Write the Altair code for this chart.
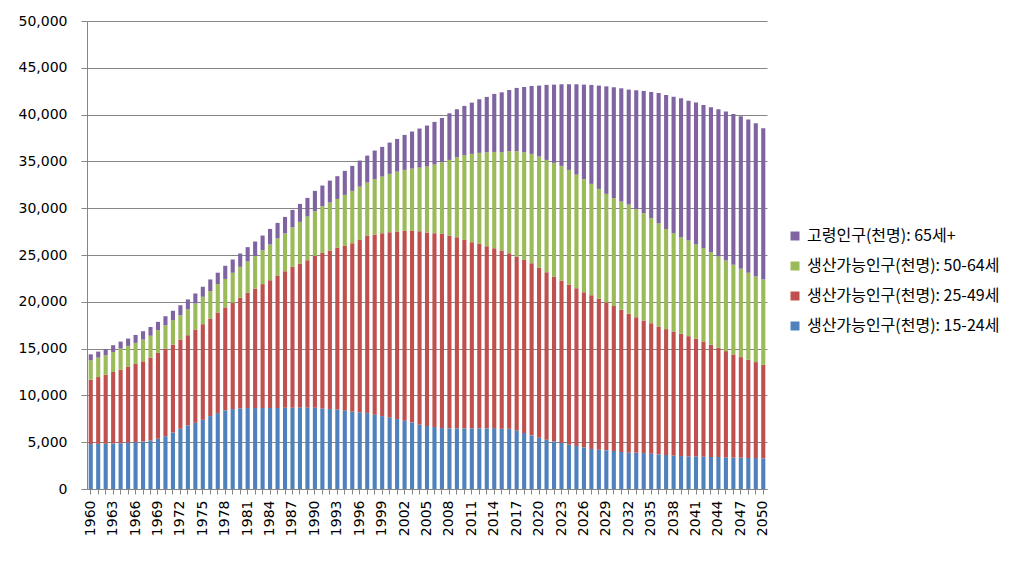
import altair as alt
import pandas as pd

years = list(range(1960, 2051))

age_15_24 = [4800, 4820, 4830, 4860, 4890, 4960, 5000, 5070, 5180, 5360,
             5640, 6040, 6430, 6790, 7070, 7390, 7790, 8110, 8400, 8540,
             8610, 8650, 8650, 8650, 8650, 8650, 8680, 8680, 8720, 8720,
             8680, 8610, 8540, 8500, 8400, 8290, 8200, 8110, 7940, 7790,
             7650, 7470, 7300, 7120, 6900, 6730, 6620, 6510, 6480, 6480,
             6480, 6480, 6480, 6480, 6500, 6440, 6440, 6260, 5980, 5730,
             5480, 5270, 5090, 4950, 4730, 4590, 4450, 4270, 4200, 4130,
             4060, 3950, 3910, 3860, 3840, 3770, 3700, 3630, 3560, 3520,
             3490, 3490, 3450, 3420, 3420, 3380, 3350, 3350, 3310, 3310,
             3270]

age_25_49 = [6880, 7140, 7380, 7640, 7860, 8080, 8360, 8570, 8860, 9180,
             9360, 9390, 9530, 9640, 9970, 10220, 10420, 10750, 11000, 11350,
             11820, 12310, 12740, 13240, 13660, 14160, 14590, 15060, 15370, 15730,
             16230, 16620, 16940, 17270, 17610, 17970, 18420, 18970, 19250, 19540,
             19790, 20040, 20280, 20460, 20640, 20670, 20710, 20750, 20600, 20420,
             20140, 19890, 19710, 19460, 19230, 19040, 18760, 18580, 18500, 18400,
             18150, 17900, 17610, 17330, 17120, 16870, 16580, 16440, 16120, 15800,
             15480, 15200, 14810, 14500, 14170, 13950, 13670, 13450, 13270, 13060,
             12840, 12560, 12320, 11990, 11670, 11350, 11030, 10740, 10500, 10250,
             10000]

age_50_64 = [2070, 2080, 2080, 2140, 2250, 2250, 2250, 2320, 2320, 2420,
             2500, 2610, 2610, 2750, 2780, 2930, 2930, 3030, 3040, 3210,
             3310, 3350, 3490, 3630, 3810, 3950, 4030, 4230, 4450, 4660,
             4770, 4980, 5120, 5220, 5410, 5590, 5680, 5660, 5910, 6050,
             6230, 6400, 6510, 6650, 6800, 7050, 7330, 7650, 8080, 8540,
             9040, 9430, 9720, 10040, 10280, 10500, 10890, 11250, 11500, 11670,
             11890, 11990, 12140, 12240, 12240, 12130, 12070, 11890, 11740, 11600,
             11530, 11560, 11670, 11540, 11460, 11210, 11030, 10710, 10500, 10320,
             10220, 10070, 9960, 9890, 9750, 9680, 9570, 9430, 9290, 9140,
             9110]

age_65p = [640, 640, 670, 720, 750, 780, 850, 900, 960, 900,
           960, 1000, 1070, 1070, 1070, 1070, 1250, 1220, 1410, 1420,
           1420, 1530, 1560, 1560, 1670, 1670, 1770, 1850, 1920, 1990,
           2170, 2210, 2350, 2430, 2570, 2670, 2790, 2880, 3060, 3170,
           3340, 3490, 3740, 3960, 4170, 4380, 4560, 4730, 4980, 5130,
           5270, 5480, 5730, 5910, 6200, 6400, 6540, 6760, 6970, 7260,
           7580, 8010, 8360, 8720, 9150, 9650, 10100, 10570, 11040, 11490,
           11850, 12100, 12280, 12700, 13060, 13490, 13910, 14310, 14590, 14840,
           14940, 15160, 15300, 15480, 15730, 15910, 16120, 16300, 16370, 16370,
           16160]

labels = ["고령인구(천명): 65세+", "생산가능인구(천명): 50-64세",
          "생산가능인구(천명): 25-49세", "생산가능인구(천명): 15-24세"]
colors = ["#8064A2", "#9BBB59", "#C0504D", "#4F81BD"]
y_ticks = list(range(0, 50001, 5000))

rows = []
for rank, (name, vals) in enumerate([(labels[3], age_15_24), (labels[2], age_25_49),
                                     (labels[1], age_50_64), (labels[0], age_65p)]):
    for yr, v in zip(years, vals):
        rows.append({"year": yr, "series": name, "value": v, "rank": rank})
df = pd.DataFrame(rows)

chart = alt.Chart(df).mark_bar().encode(
    x=alt.X("year:O",
            scale=alt.Scale(paddingInner=0.45, paddingOuter=0.225),
            axis=alt.Axis(title=None, labelAngle=-90,
                          labelExpr="(datum.value - 1960) % 3 == 0 ? datum.label : ''",
                          labelOverlap=False, labelFont="DejaVu Sans", labelFontSize=14,
                          labelColor="#000000", labelPadding=6, tickSize=5,
                          tickColor="#868686", domainColor="#868686", grid=False)),
    y=alt.Y("value:Q", stack="zero",
            scale=alt.Scale(domain=[0, 50000], nice=False),
            axis=alt.Axis(title=None, values=y_ticks, format=",.0f",
                          labelFont="DejaVu Sans", labelFontSize=14, labelColor="#000000",
                          labelPadding=14, tickSize=6, tickColor="#868686",
                          domainColor="#868686", gridColor="#868686", grid=True)),
    color=alt.Color("series:N",
                    scale=alt.Scale(domain=labels, range=colors),
                    legend=alt.Legend(title=None, orient="none", legendX=700, legendY=207,
                                      symbolType="square", symbolSize=81,
                                      symbolStrokeWidth=0, labelFont="Noto Sans CJK KR",
                                      labelFontSize=16, labelColor="#000000",
                                      rowPadding=14, labelOffset=4, labelLimit=400)),
    order=alt.Order("rank:Q", sort="ascending"),
).properties(
    width=680, height=468,
    autosize=alt.AutoSizeParams(type="none"),
    padding={"left": 79, "top": 13, "right": 249, "bottom": 66},
).configure_view(stroke=None)

chart.save("out.html", embed_options={"renderer": "svg", "actions": False})
